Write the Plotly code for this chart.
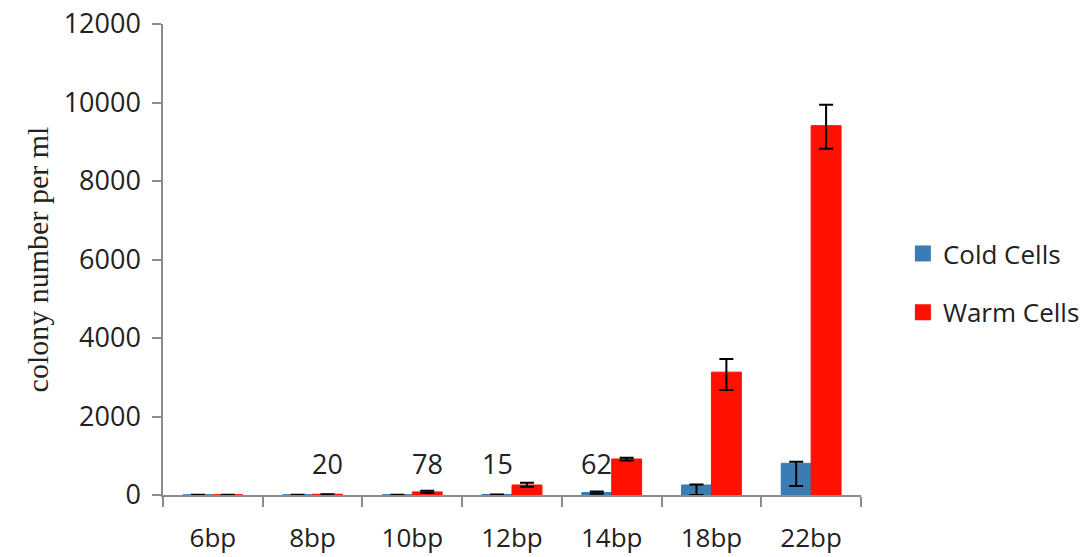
import plotly.graph_objects as go

categories = ["6bp", "8bp", "10bp", "12bp", "14bp", "18bp", "22bp"]
cold_values = [5, 5, 5, 15, 62, 255, 808]
cold_err_plus = [0, 0, 0, 0, 30, 10, 40]
cold_err_minus = [0, 0, 0, 0, 30, 255, 580]
warm_values = [5, 20, 78, 255, 917, 3130, 9410]
warm_err_plus = [0, 0, 30, 55, 35, 335, 530]
warm_err_minus = [0, 0, 30, 45, 35, 455, 590]

# data labels shown above small bars: (category, series, value)
label_cats = ["8bp", "10bp", "12bp", "14bp"]
label_series = ["warm", "warm", "cold", "cold"]
label_values = [20, 78, 15, 62]

y_ticks = [0, 2000, 4000, 6000, 8000, 10000, 12000]

COLD = "#3A7CB3"
WARM = "#FF1000"
SANS = "Open Sans, Liberation Sans, sans-serif"
TXT = "#222222"

fig = go.Figure()
fig.add_trace(go.Bar(
    x=categories, y=cold_values, name="Cold Cells",
    marker=dict(color=COLD, line=dict(color=COLD, width=1)),
    error_y=dict(type="data", symmetric=False, array=cold_err_plus,
                 arrayminus=cold_err_minus, color="black", thickness=2, width=7),
    showlegend=False,
))
fig.add_trace(go.Bar(
    x=categories, y=warm_values, name="Warm Cells",
    marker=dict(color=WARM, line=dict(color=WARM, width=1)),
    error_y=dict(type="data", symmetric=False, array=warm_err_plus,
                 arrayminus=warm_err_minus, color="black", thickness=2, width=7),
    showlegend=False,
))
# legend entries with larger square swatches
fig.add_trace(go.Scatter(x=[None], y=[None], mode="markers", name="Cold Cells",
                         marker=dict(symbol="square", size=19, color=COLD),
                         legendgroup="a"))
fig.add_trace(go.Scatter(x=[None], y=[None], mode="markers", name="Warm Cells",
                         marker=dict(symbol="square", size=19, color=WARM),
                         legendgroup="b"))

for c, s, v in zip(label_cats, label_series, label_values):
    fig.add_annotation(x=c, y=790, text=str(v), showarrow=False,
                       xshift=(-15 if s == "cold" else 15), yanchor="middle",
                       font=dict(family=SANS, size=27, color=TXT))

fig.update_layout(
    width=1086, height=557,
    margin=dict(l=163, r=225, t=24, b=62, autoexpand=False),
    paper_bgcolor="white", plot_bgcolor="white",
    barmode="group", bargap=0.4, bargroupgap=0,
    font=dict(family=SANS, size=27, color=TXT),
    legend=dict(x=1.06, y=0.45, xanchor="left", yanchor="middle",
                font=dict(family=SANS, size=26, color=TXT),
                tracegroupgap=22, itemwidth=30),
    xaxis=dict(
        type="category", showline=True, linecolor="#8C8C8C", linewidth=1.5,
        ticks="outside", tickson="boundaries", ticklen=10, tickcolor="#8C8C8C",
        tickwidth=1.5, showgrid=False, tickfont=dict(family=SANS, size=26, color=TXT),
        range=[-0.5, 6.5], automargin=False, ticklabelstandoff=19,
    ),
    yaxis=dict(
        range=[0, 12000], tickvals=y_ticks, ticktext=[str(t) for t in y_ticks],
        showline=True, linecolor="#8C8C8C", linewidth=1.5,
        ticks="outside", ticklen=9, tickcolor="#8C8C8C", tickwidth=1.5,
        showgrid=False, zeroline=False, tickfont=dict(family=SANS, size=27, color=TXT),
        automargin=False, ticklabelstandoff=6,
        title=dict(text="colony number per ml",
                   font=dict(family="Liberation Serif, Times New Roman, serif", size=30, color=TXT),
                   standoff=6),
    ),
)

fig.write_html("out.html", config={"displayModeBar": False},
               post_script="document.body.style.margin='0';document.body.style.overflow='hidden';")
